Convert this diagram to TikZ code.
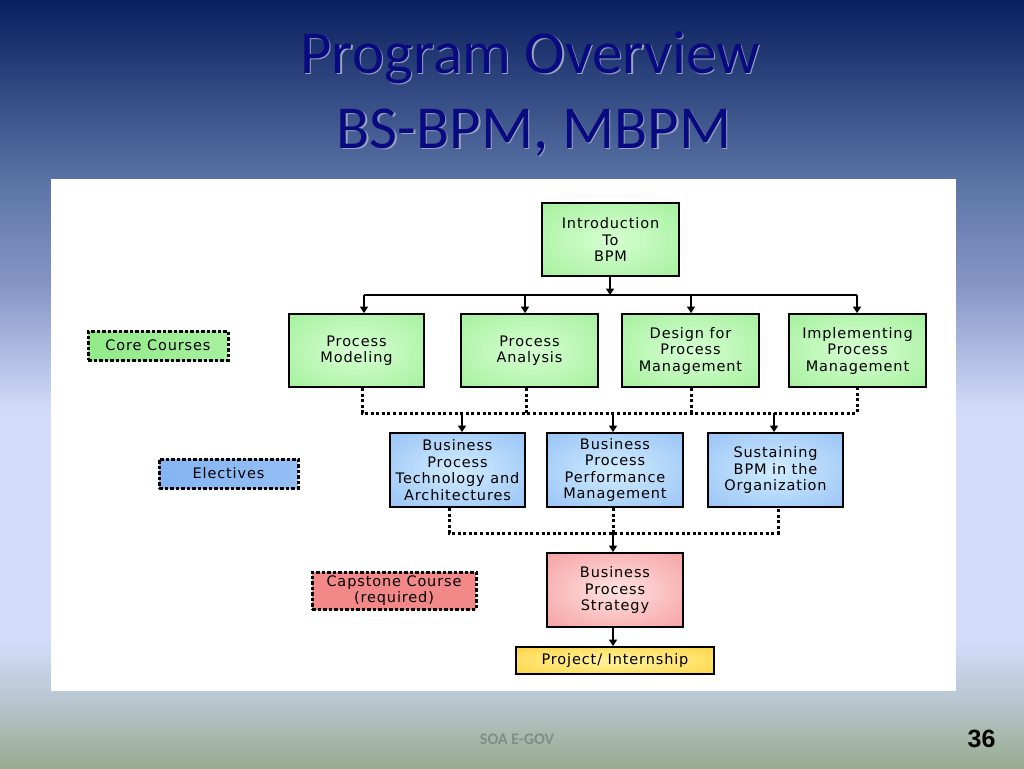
\documentclass[tikz,border=0pt]{standalone}
\usepackage{fontspec}
\usetikzlibrary{arrows.meta}
\newfontfamily\boxfont[LetterSpace=6]{DejaVu Sans}
\newfontfamily\titlefont{Carlito}
\newfontfamily\numfont{Liberation Sans}
\definecolor{bg0}{HTML}{0A1F5E}
\definecolor{bg1}{HTML}{5A73A5}
\definecolor{bg2}{HTML}{8898C8}
\definecolor{bg3}{HTML}{D2DCFA}
\definecolor{bg4}{HTML}{B8C6D0}
\definecolor{bg5}{HTML}{98AC90}
\definecolor{titleblue}{HTML}{0A0A80}
\definecolor{shadowgrey}{HTML}{98A4BC}
\definecolor{gIn}{HTML}{D6FFD2}
\definecolor{gOut}{HTML}{92EA88}
\definecolor{bIn}{HTML}{D0ECFF}
\definecolor{bOut}{HTML}{84B4F2}
\definecolor{rIn}{HTML}{FFE2E2}
\definecolor{rOut}{HTML}{F28888}
\definecolor{yIn}{HTML}{FFF4A0}
\definecolor{yOut}{HTML}{FFC820}
\definecolor{footgrey}{HTML}{7E8E86}
\pgfdeclareradialshading{glowgreen}{\pgfpointorigin}{color(0bp)=(gIn); color(50bp)=(gOut)}
\pgfdeclareradialshading{glowblue}{\pgfpointorigin}{color(0bp)=(bIn); color(50bp)=(bOut)}
\pgfdeclareradialshading{glowred}{\pgfpointorigin}{color(0bp)=(rIn); color(50bp)=(rOut)}
\pgfdeclareradialshading{glowyellow}{\pgfpointorigin}{color(0bp)=(yIn); color(50bp)=(yOut)}
\begin{document}
\begin{tikzpicture}[x=1pt,y=-1pt,
  box/.style={draw=black, line width=1.8pt, inner sep=0pt, align=center,
    font=\boxfont\fontsize{14.5}{16.5}\selectfont, text=black},
  gbox/.style={box, shading=glowgreen},
  bbox/.style={box, shading=glowblue},
  rbox/.style={box, shading=glowred},
  ybox/.style={box, shading=glowyellow},
  legend/.style={box, draw=black, line width=3pt, dash pattern=on 3.5pt off 2pt},
  arr/.style={line width=1.6pt, -{Triangle[length=6.5pt,width=8pt]}},
  solidline/.style={line width=1.6pt},
  dotline/.style={line width=3pt, dash pattern=on 3pt off 2.6pt},
  titletext/.style={font=\titlefont\fontsize{61}{70}\selectfont, anchor=base}
]
\useasboundingbox (0,0) rectangle (1024,768);
% background
\shade[top color=bg0, bottom color=bg1] (0,0) rectangle (1024,180.5);
\shade[top color=bg1, bottom color=bg2] (0,180) rectangle (1024,290.5);
\shade[top color=bg2, bottom color=bg3] (0,290) rectangle (1024,410.5);
\fill[bg3] (0,410) rectangle (1024,640.5);
\shade[top color=bg3, bottom color=bg4] (0,640) rectangle (1024,700.5);
\shade[top color=bg4, bottom color=bg5] (0,700) rectangle (1024,768);
% title
\node[titletext, text=shadowgrey] (t1s) at (531.5,74.5) {Program Overview};
\node[titletext, text=titleblue] (t1) at (530,73) {Program Overview};
\node[titletext, text=shadowgrey] (t2s) at (535.5,149.5) {BS-BPM, MBPM};
\node[titletext, text=titleblue] (t2) at (534,148) {BS-BPM, MBPM};
% white panel
\fill[white] (51,179) rectangle (956,691);
% nodes
\node[gbox, minimum width=137pt, minimum height=73pt] (intro) at (610.5,239.5) {Introduction\\To\\BPM};
\node[gbox, minimum width=135pt, minimum height=73pt] (pm) at (356.5,350.5) {Process\\Modeling};
\node[gbox, minimum width=137pt, minimum height=73pt] (pa) at (529.5,350.5) {Process\\Analysis};
\node[gbox, minimum width=137pt, minimum height=73pt] (dpm) at (690.5,350.5) {Design for\\Process\\Management};
\node[gbox, minimum width=137pt, minimum height=73pt] (ipm) at (857.5,350.5) {Implementing\\Process\\Management};
\node[bbox, minimum width=135pt, minimum height=74pt] (bpta) at (457.5,470) {Business\\Process\\Technology and\\Architectures};
\node[bbox, minimum width=136pt, minimum height=74pt] (bppm) at (615,470) {Business\\Process\\Performance\\Management};
\node[bbox, minimum width=135pt, minimum height=74pt] (sus) at (775.5,470) {Sustaining\\BPM in the\\Organization};
\node[rbox, minimum width=136pt, minimum height=74pt] (bps) at (615,590) {Business\\Process\\Strategy};
\node[ybox, minimum width=198pt, minimum height=27pt] (proj) at (615,660.5) {Project/ Internship};
% legend
\node[legend, left color=gOut, middle color=gIn!70!gOut, right color=gOut!70!gIn, minimum width=140pt, minimum height=29pt] (core) at (158,345.5) {Core Courses};
\node[legend, left color=bOut, middle color=bIn, right color=bOut!80!bIn, minimum width=139pt, minimum height=29pt] (elec) at (228.5,473.5) {Electives};
\node[legend, left color=rOut, middle color=rIn!70!rOut, right color=rOut, minimum width=164pt, minimum height=37pt] (cap) at (394,590.5) {Capstone Course\\(required)};
% connectors level 1
\coordinate (j0) at (610,295);
\coordinate (jpm) at (364,295);
\coordinate (jpa) at (525,295);
\coordinate (jdpm) at (691,295);
\coordinate (jipm) at (857,295);
\draw[arr] (intro.south -| j0) -- (j0);
\draw[solidline] (jpm) -- (jipm);
\draw[arr] (jpm) -- (jpm |- pm.north);
\draw[arr] (jpa) -- (jpa |- pa.north);
\draw[arr] (jdpm) -- (jdpm |- dpm.north);
\draw[arr] (jipm) -- (jipm |- ipm.north);
% connectors level 2 (dotted)
\coordinate (d1) at (362,413);
\coordinate (d2) at (526,413);
\coordinate (d3) at (691,413);
\coordinate (d4) at (857,413);
\coordinate (e1) at (462,413);
\coordinate (e2) at (613,413);
\coordinate (e3) at (774,413);
\draw[dotline] (d1 |- pm.south) -- (d1) -- (d4) -- (d4 |- ipm.south);
\draw[dotline] (d2 |- pa.south) -- (d2);
\draw[dotline] (d3 |- dpm.south) -- (d3);
\draw[arr] (e1) -- (e1 |- bpta.north);
\draw[arr] (e2) -- (e2 |- bppm.north);
\draw[arr] (e3) -- (e3 |- sus.north);
% connectors level 3 (dotted)
\coordinate (f1) at (449,533);
\coordinate (f2) at (613,533);
\coordinate (f3) at (778,533);
\draw[dotline] (f1 |- bpta.south) -- (f1) -- (f3) -- (f3 |- sus.south);
\draw[dotline] (f2 |- bppm.south) -- (f2);
\draw[arr] (f2) -- (f2 |- bps.north);
\draw[arr] (bps.south -| f2) -- (proj.north -| f2);
% footer
\node[font=\titlefont\bfseries\fontsize{16}{18}\selectfont, text=footgrey, anchor=base] (foot) at (517,744) {SOA E-GOV};
\node[font=\numfont\bfseries\fontsize{25}{28}\selectfont, text=black, anchor=base east] (num) at (999,747) {36};
\end{tikzpicture}
\end{document}
